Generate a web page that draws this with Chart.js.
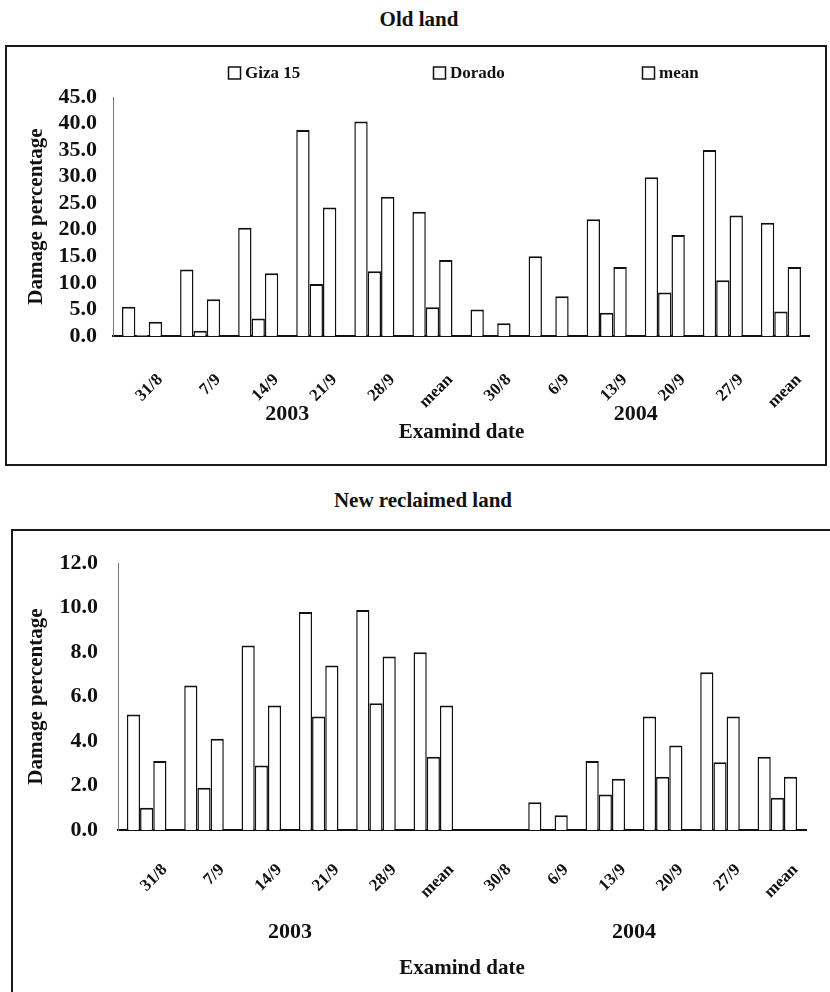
<!DOCTYPE html>
<html>
<head>
<meta charset="utf-8">
<script src="https://cdn.jsdelivr.net/npm/chart.js@4.4.1/dist/chart.umd.min.js"></script>
<style>
  html, body { margin: 0; padding: 0; background: #fff; width: 830px; height: 992px; overflow: hidden; position: relative; }
  .title { position: absolute; left: 0; width: 830px; text-align: center; font: bold 21px "Liberation Serif", serif; color: #111; }
  .box { position: absolute; border: 2px solid #1a1a1a; }
  canvas { position: absolute; left: 0; }
</style>
</head>
<body>
<div class="title" style="top:7px; padding-left:4px">Old land</div>
<div class="box" style="left:5px; top:45px; width:818px; height:417px"></div>
<canvas id="chart-old" width="830" height="420" style="top:46px"></canvas>

<div class="title" style="top:488px; padding-left:8px">New reclaimed land</div>
<div class="box" style="left:11px; top:529px; width:840px; height:480px; border-right:none; border-bottom:none"></div>
<canvas id="chart-new" width="830" height="462" style="top:530px"></canvas>

<script>
// examination dates, 2003 block then 2004 block
const DATES = ["31/8", "7/9", "14/9", "21/9", "28/9", "mean", "30/8", "6/9", "13/9", "20/9", "27/9", "mean"];
const YEARS = ["2003", "2004"];

// Old land, damage %
const GIZA_OLD   = [5.5, 12.5, 20.4, 38.8, 40.4, 23.4, 5.0, 15.0, 22.0, 29.9, 35.0, 21.3];
const DORADO_OLD = [0.2, 1.0, 3.3, 9.8, 12.2, 5.4, 0, 0, 4.4, 8.2, 10.5, 4.6];
const MEAN_OLD   = [2.7, 6.9, 11.8, 24.2, 26.2, 14.3, 2.4, 7.5, 13.0, 19.0, 22.7, 13.0];
const Y_TICKS_OLD = [0, 5, 10, 15, 20, 25, 30, 35, 40, 45];

// New reclaimed land, damage %
const GIZA_NEW   = [5.2, 6.5, 8.3, 9.8, 9.9, 8.0, 0, 1.25, 3.1, 5.1, 7.1, 3.3];
const DORADO_NEW = [1.0, 1.9, 2.9, 5.1, 5.7, 3.3, 0, 0, 1.6, 2.4, 3.05, 1.45];
const MEAN_NEW   = [3.1, 4.1, 5.6, 7.4, 7.8, 5.6, 0, 0.66, 2.3, 3.8, 5.1, 2.4];
const Y_TICKS_NEW = [0, 2, 4, 6, 8, 10, 12];

const FONT = '"Liberation Serif", "Times New Roman", serif';
const INK = "#111";
Chart.defaults.font.family = FONT;
Chart.defaults.font.weight = "bold";
Chart.defaults.color = INK;

// legend spread across the top like the original (Chart.js packs items together)
const spreadLegend = {
  id: "spreadLegend",
  afterDraw(chart, args, opts) {
    if (!opts.xs) return;
    const ctx = chart.ctx;
    ctx.save();
    ctx.font = "bold 17px " + FONT;
    ctx.textBaseline = "middle";
    ctx.fillStyle = INK;
    ctx.strokeStyle = INK;
    ctx.lineWidth = 1.5;
    chart.data.datasets.forEach((ds, i) => {
      const x0 = opts.xs[i];
      ctx.strokeRect(x0 + 0.5, opts.y - 6, 12, 12);
      ctx.fillText(ds.label, x0 + 17, opts.y + 1);
    });
    ctx.restore();
  }
};

// year captions centred under each block of six dates
const yearLabels = {
  id: "yearLabels",
  afterDraw(chart, args, opts) {
    const { ctx, scales: { x } } = chart;
    ctx.save();
    ctx.font = "bold 22px " + FONT;
    ctx.fillStyle = INK;
    ctx.textAlign = "center";
    ctx.textBaseline = "middle";
    YEARS.forEach((yr, i) => {
      const a = x.getPixelForValue(i * 6);
      const b = x.getPixelForValue(i * 6 + 5);
      ctx.fillText(yr, (a + b) / 2, opts.y);
    });
    ctx.restore();
  }
};

function buildChart(id, cfg) {
  const bar = {
    backgroundColor: "#fff",
    borderColor: INK,
    borderWidth: { top: 2, left: 1.5, right: 1.5, bottom: 0 },
    borderSkipped: "bottom",
    categoryPercentage: 0.69,
    barPercentage: 1.0,
  };
  return new Chart(document.getElementById(id), {
    type: "bar",
    data: {
      labels: DATES,
      datasets: [
        { label: "Giza 15", data: cfg.giza, ...bar },
        { label: "Dorado", data: cfg.dorado, ...bar },
        { label: "mean", data: cfg.mean, ...bar },
      ],
    },
    options: {
      responsive: false,
      animation: false,
      layout: { padding: cfg.padding },
      plugins: {
        legend: { display: false },
        tooltip: { enabled: false },
        spreadLegend: cfg.legend || {},
        yearLabels: { y: cfg.yearY },
      },
      scales: {
        x: {
          grid: { display: false, drawTicks: false },
          border: { display: true, color: INK, width: 2 },
          ticks: {
            autoSkip: false, maxRotation: 45, minRotation: 45,
            padding: cfg.xTickPad, labelOffset: 18,
            color: INK, font: { size: 17, weight: "bold" },
          },
          title: {
            display: true, text: "Examind date", color: INK,
            font: { size: 21, weight: "bold" },
            padding: { top: 0, bottom: cfg.xTitlePad },
          },
          afterFit: s => { s.height = cfg.xHeight; },
        },
        y: {
          min: 0,
          max: cfg.yTicks[cfg.yTicks.length - 1],
          afterBuildTicks: s => { s.ticks = cfg.yTicks.map(v => ({ value: v })); },
          grid: { display: false, drawTicks: false },
          border: { display: true, color: "#777", width: 1, dash: [1, 4] },
          ticks: {
            autoSkip: false,
            padding: cfg.yTickPad, color: INK,
            font: { size: 22, weight: "bold" },
            callback: v => Number(v).toFixed(1),
          },
          title: {
            display: true, text: "Damage percentage", color: INK,
            font: { size: 21, weight: "bold" },
            padding: { top: 24, bottom: 0 },
          },
          afterFit: s => { s.width = cfg.yWidth; },
        },
      },
    },
    plugins: [spreadLegend, yearLabels],
  });
}

buildChart("chart-old", {
  giza: GIZA_OLD, dorado: DORADO_OLD, mean: MEAN_OLD, yTicks: Y_TICKS_OLD,
  padding: { top: 51, right: 15, left: 0, bottom: 0 },
  yWidth: 113, xHeight: 130, yTickPad: 16, xTickPad: 34,
  yearY: 368, xTitlePad: 21,
  legend: { xs: [228, 433, 642], y: 27 },
});

buildChart("chart-new", {
  giza: GIZA_NEW, dorado: DORADO_NEW, mean: MEAN_NEW, yTicks: Y_TICKS_NEW,
  padding: { top: 29, right: 24, left: 0, bottom: 0 },
  yWidth: 118, xHeight: 162, yTickPad: 20, xTickPad: 30,
  yearY: 402, xTitlePad: 11,
});
</script>
</body>
</html>
